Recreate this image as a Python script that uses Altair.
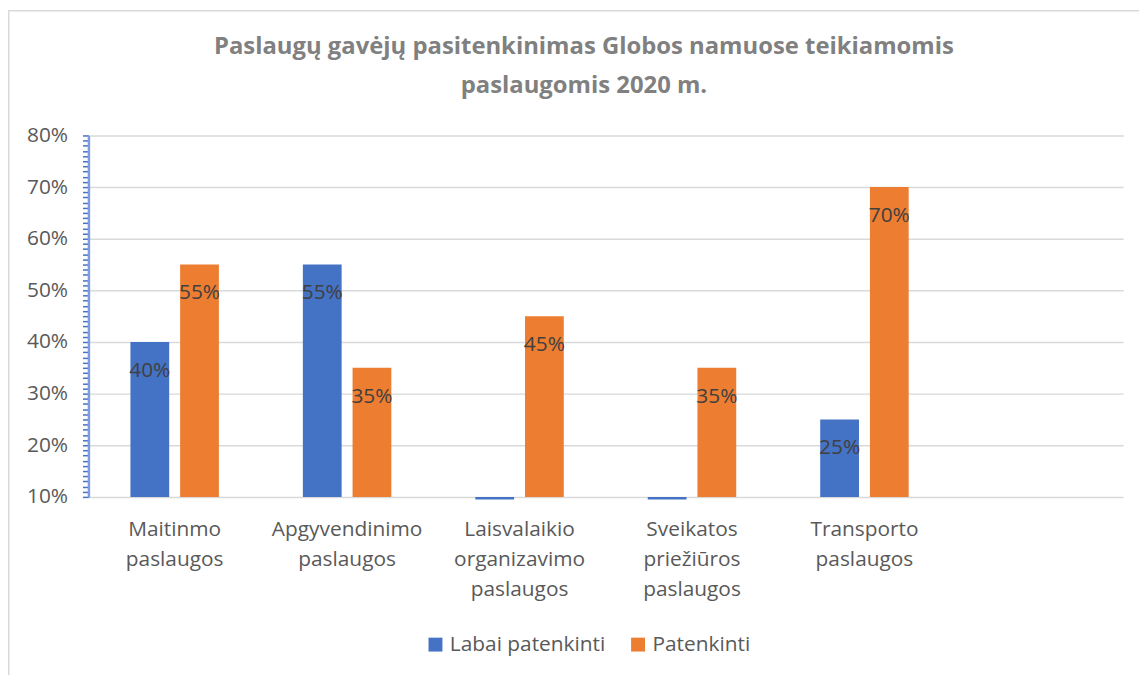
import altair as alt
import pandas as pd

categories = [
    "Maitinmo paslaugos",
    "Apgyvendinimo paslaugos",
    "Laisvalaikio organizavimo paslaugos",
    "Sveikatos priežiūros paslaugos",
    "Transporto paslaugos",
]
series_names = ["Labai patenkinti", "Patenkinti"]
labai_patenkinti = [0.40, 0.55, 0.095, 0.095, 0.25]
patenkinti = [0.55, 0.35, 0.45, 0.35, 0.70]
colors = ["#4472C4", "#ED7D31"]
title_lines = [
    "Paslaugų gavėjų pasitenkinimas Globos namuose teikiamomis",
    "paslaugomis 2020 m.",
]

rows = []
for c, a, b in zip(categories, labai_patenkinti, patenkinti):
    rows.append({"cat": c, "series": series_names[0], "value": a})
    rows.append({"cat": c, "series": series_names[1], "value": b})
df = pd.DataFrame(rows)

x_domain = categories + [" "]
y_ticks = [round(i / 100, 2) for i in range(10, 81)]

FONT = "Open Sans"
TXT = "#595959"

x_enc = alt.X(
    "cat:N",
    scale=alt.Scale(domain=x_domain, paddingInner=0.487, paddingOuter=0.2435),
    sort=x_domain,
    axis=alt.Axis(
        title=None,
        labelExpr="split(datum.label, ' ')",
        labelAngle=0,
        labelFontSize=21,
        labelFont=FONT,
        labelColor=TXT,
        labelLineHeight=30,
        labelPadding=22,
        ticks=False,
        domain=False,
        labelBaseline="top",
    ),
)
xoff = alt.XOffset(
    "series:N", scale=alt.Scale(paddingInner=0.22, paddingOuter=0), sort=series_names
)
y_enc = alt.Y(
    "value:Q",
    scale=alt.Scale(domain=[0.1, 0.8], zero=False, nice=False),
    axis=alt.Axis(
        title=None,
        values=y_ticks,
        tickCount=200,
        labelExpr="round(datum.value*100) % 10 == 0 ? format(datum.value, '.0%') : ''",
        labelOverlap=False,
        labelFontSize=21,
        labelFont=FONT,
        labelColor=TXT,
        labelPadding=15,
        tickColor="#4472C4",
        tickSize=6,
        tickWidth=1.5,
        domainColor="#7C9BE2",
        domainWidth=2.5,
        gridColor="#D9D9D9",
        gridWidth=1.5,
        gridOpacity={
            "condition": {"test": "round(datum.value*100) % 10 == 0", "value": 1},
            "value": 0,
        },
    ),
)

bars = alt.Chart(df).mark_bar().encode(
    x=x_enc,
    xOffset=xoff,
    y=y_enc,
    y2=alt.datum(0.1),
    color=alt.Color(
        "series:N",
        scale=alt.Scale(domain=series_names, range=colors),
        legend=alt.Legend(
            title=None,
            orient="none",
            direction="horizontal",
            legendX=339,
            legendY=502,
            symbolType="square",
            symbolSize=196,
            symbolStrokeWidth=0,
            labelFontSize=21,
            labelFont=FONT,
            labelColor=TXT,
            labelOffset=4,
            columnPadding=22,
        ),
    ),
)

labels = alt.Chart(df).transform_filter("datum.value >= 0.1").mark_text(
    dy=29, fontSize=21, font=FONT, color="#404040", baseline="middle"
).encode(
    x=alt.X("cat:N", sort=x_domain),
    xOffset=alt.XOffset("series:N", sort=series_names),
    y="value:Q",
    text=alt.Text("value:Q", format=".0%"),
)

frame_data = alt.Data(values=[{"k": 1}])
frame_left = alt.Chart(frame_data).mark_rule(color="#D9D9D9", strokeWidth=2).encode(
    x=alt.value(-80.5), y=alt.value(-125), y2=alt.value(545)
)
frame_top = alt.Chart(frame_data).mark_rule(color="#D9D9D9", strokeWidth=1.5).encode(
    x=alt.value(-81), x2=alt.value(1060), y=alt.value(-125.5)
)

chart = (
    alt.layer(frame_left, frame_top, bars, labels)
    .properties(
        width=1042,
        height=364,
        autosize=alt.AutoSizeParams(type="none"),
        padding={"left": 81, "top": 126, "right": 16, "bottom": 177},
        title=alt.TitleParams(
            text=title_lines,
            font="Open Sans",
            fontSize=24,
            fontWeight="bold",
            color="#808080",
            lineHeight=39,
            anchor="middle",
            dx=-22,
            offset=-88,
        ),
    )
    .configure_view(stroke=None)
)

chart.save("out.html", embed_options={"renderer": "svg", "actions": False})
